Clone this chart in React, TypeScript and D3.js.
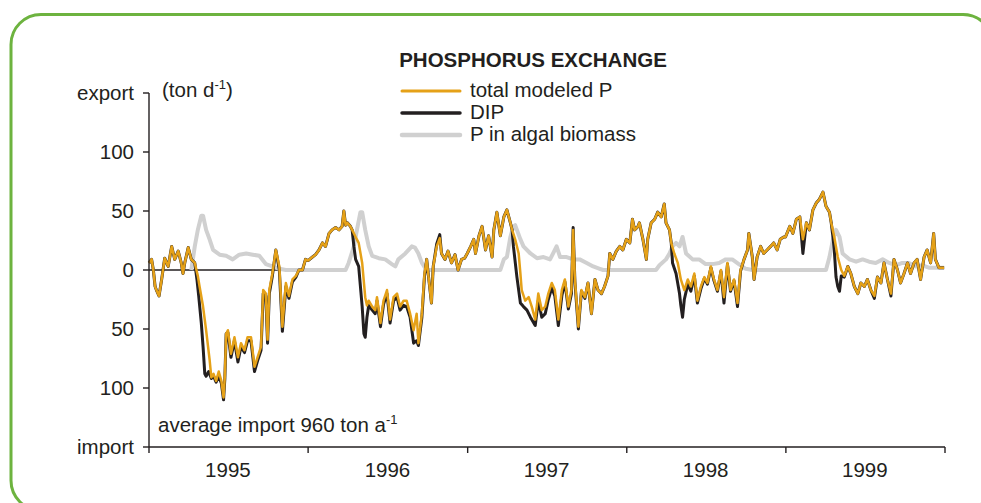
import React from "react";
import * as d3 from "d3";

// days since 1995-01-01, value in ton/day (positive = export, negative = import)
const totalP: [number, number][] = [
  [0,6],[6,9],[10,0],[14,-14],[17,-17],[23,-22],[29,-8],[36,10],[44,3],[52,20],[59,9],[67,16],[74,6],[78,-3],[82,6],[90,19],[97,9],[105,6],[112,-5],[116,-14],[124,-31],[131,-51],[139,-76],[143,-91],[148,-88],[154,-94],[160,-86],[166,-94],[171,-108],[174,-90],[177,-54],[181,-51],[188,-71],[196,-57],[204,-74],[211,-62],[219,-68],[226,-57],[234,-57],[242,-82],[249,-74],[257,-65],[262,-17],[268,-20],[272,-59],[276,-17],[283,-3],[291,17],[299,3],[306,-48],[314,-11],[321,-22],[329,-8],[337,-5],[344,0],[352,0],[359,9],
  [365,8],[375,11],[382,13],[390,17],[398,23],[405,20],[413,31],[420,34],[428,36],[436,34],[443,37],[447,50],[451,38],[455,40],[462,37],[466,34],[474,28],[481,23],[489,6],[496,-23],[500,-30],[504,-26],[512,-31],[519,-34],[523,-23],[531,-45],[538,-26],[546,-17],[553,-42],[561,-23],[569,-20],[576,-31],[584,-26],[591,-26],[599,-37],[607,-51],[614,-37],[618,-62],[626,-37],[632,-3],[637,9],[641,-5],[648,-28],[652,3],[660,20],[667,27],[671,14],[679,9],[686,16],[694,6],[702,13],[709,0],[717,9],[724,10],
  [730,14],[738,20],[745,26],[749,14],[757,29],[764,37],[772,17],[779,29],[787,11],[791,34],[798,49],[806,29],[814,45],[821,51],[829,40],[833,34],[840,26],[848,14],[852,-3],[855,-17],[863,-26],[871,-23],[878,-31],[886,-42],[893,-20],[901,-34],[909,-31],[916,-20],[924,-11],[931,-17],[939,-42],[947,-17],[954,-8],[962,-31],[969,-17],[973,34],[977,-8],[985,-48],[992,-17],[1000,-23],[1007,-11],[1015,-37],[1023,-8],[1030,-17],[1038,-20],[1045,-14],[1053,-5],[1057,14],[1064,9],[1072,16],[1080,20],[1087,17],
  [1095,26],[1103,23],[1109,43],[1114,34],[1122,37],[1125,40],[1133,26],[1141,9],[1144,26],[1152,40],[1160,43],[1167,49],[1175,45],[1182,56],[1186,40],[1194,34],[1198,23],[1205,14],[1213,6],[1220,-8],[1228,-17],[1236,-8],[1243,-14],[1251,-3],[1258,-26],[1266,-14],[1274,-6],[1281,-11],[1289,3],[1296,-8],[1304,-17],[1312,0],[1319,-23],[1327,6],[1334,-17],[1342,-8],[1350,-28],[1357,0],[1365,9],[1373,17],[1376,31],[1384,11],[1388,-8],[1395,11],[1403,20],[1410,14],[1418,17],[1426,20],[1433,23],[1441,17],[1448,26],[1456,28],
  [1460,28],[1470,37],[1477,31],[1485,43],[1493,45],[1500,26],[1508,40],[1515,34],[1523,51],[1531,57],[1538,60],[1546,66],[1553,54],[1561,49],[1565,40],[1572,28],[1580,11],[1588,0],[1595,-5],[1603,3],[1610,-3],[1618,-14],[1626,-20],[1633,-11],[1641,-14],[1648,-8],[1656,-17],[1664,-22],[1671,-6],[1679,-11],[1686,6],[1694,-8],[1702,-20],[1709,9],[1717,0],[1724,-11],[1732,-3],[1740,6],[1747,-3],[1755,6],[1762,9],[1770,-8],[1778,11],[1785,17],[1793,6],[1800,31],[1804,9],[1812,2],[1824,2],
];

const dip: [number, number][] = [
  [0,6],[6,9],[10,0],[14,-14],[17,-17],[23,-22],[29,-8],[36,10],[44,3],[52,20],[59,9],[67,16],[74,6],[78,-3],[82,6],[90,19],[97,9],[105,6],[110,-8],[114,-22],[120,-45],[124,-65],[128,-88],[131,-90],[137,-86],[143,-92],[148,-90],[154,-95],[160,-90],[166,-96],[171,-110],[174,-92],[177,-54],[181,-53],[188,-74],[196,-60],[204,-78],[211,-65],[219,-70],[226,-60],[234,-60],[242,-86],[249,-77],[257,-68],[262,-20],[268,-22],[272,-62],[276,-20],[283,-5],[291,17],[299,0],[306,-52],[314,-14],[321,-24],[329,-10],[337,-6],[344,0],[352,0],[359,9],
  [365,8],[375,11],[382,13],[390,17],[398,23],[405,20],[413,31],[420,34],[428,36],[436,34],[443,37],[447,50],[451,38],[455,40],[462,37],[466,34],[470,20],[474,9],[481,3],[489,-31],[493,-54],[496,-57],[500,-40],[504,-30],[512,-34],[519,-37],[523,-26],[531,-48],[538,-29],[546,-20],[553,-45],[561,-26],[569,-23],[576,-34],[584,-30],[591,-31],[599,-40],[607,-62],[614,-60],[618,-64],[626,-40],[632,-5],[637,9],[641,-5],[648,-28],[652,3],[660,22],[667,30],[671,14],[679,9],[686,16],[694,6],[702,13],[709,0],[717,9],[724,10],
  [730,14],[738,20],[745,26],[749,14],[757,29],[764,37],[772,17],[779,29],[787,11],[791,34],[798,49],[806,29],[814,45],[821,51],[829,40],[833,34],[836,20],[844,-6],[852,-28],[859,-31],[867,-34],[875,-40],[886,-47],[893,-26],[901,-40],[909,-37],[916,-25],[924,-15],[931,-22],[939,-47],[947,-22],[954,-10],[962,-33],[969,-20],[973,36],[977,-10],[985,-50],[992,-18],[1000,-24],[1007,-11],[1015,-37],[1023,-8],[1030,-17],[1038,-20],[1045,-14],[1053,-5],[1057,14],[1064,9],[1072,16],[1080,20],[1087,17],
  [1095,26],[1103,23],[1109,43],[1114,34],[1122,37],[1125,40],[1133,26],[1141,9],[1144,26],[1152,40],[1160,43],[1167,49],[1175,45],[1182,56],[1186,40],[1194,34],[1198,23],[1201,6],[1209,-3],[1217,-20],[1220,-30],[1224,-40],[1228,-25],[1236,-12],[1243,-18],[1251,-5],[1258,-28],[1266,-16],[1274,-7],[1281,-12],[1289,2],[1296,-9],[1304,-18],[1312,-1],[1319,-28],[1327,5],[1334,-18],[1342,-9],[1350,-31],[1357,-1],[1365,9],[1373,17],[1376,31],[1384,11],[1388,-8],[1395,11],[1403,20],[1410,14],[1418,17],[1426,20],[1433,23],[1441,17],[1448,26],[1456,28],
  [1460,28],[1470,37],[1477,31],[1485,43],[1493,45],[1500,14],[1508,40],[1515,34],[1523,51],[1531,57],[1538,60],[1546,66],[1553,54],[1561,49],[1565,40],[1569,28],[1572,17],[1576,-6],[1580,-14],[1584,-18],[1588,-5],[1595,-6],[1603,3],[1610,-3],[1618,-14],[1626,-20],[1633,-11],[1641,-14],[1648,-8],[1656,-17],[1664,-24],[1671,-6],[1679,-11],[1686,6],[1694,-8],[1702,-22],[1709,9],[1717,0],[1724,-11],[1732,-3],[1740,6],[1747,-3],[1755,6],[1762,9],[1770,-8],[1778,11],[1785,17],[1793,6],[1800,31],[1804,9],[1812,2],[1824,2],
];

const algalP: [number, number][] = [
  [97,0],[105,20],[112,34],[120,46],[124,46],[131,34],[139,26],[147,17],[162,13],[177,12],[192,9],[207,13],[223,14],[238,13],[253,12],[268,5],[283,3],[299,1],[314,0],[451,0],[458,6],[470,20],[477,34],[485,49],[489,49],[496,34],[504,20],[512,12],[527,10],[542,9],[557,5],[565,3],[572,9],[588,14],[603,20],[610,19],[618,14],[626,6],[633,2],[641,0],[806,0],[814,9],[821,11],[829,28],[836,37],[840,38],[844,34],[852,26],[859,20],[875,14],[890,10],[905,11],[920,9],[931,17],[935,20],[943,11],[958,11],[973,9],[988,9],[1004,6],[1019,3],[1034,1],[1042,0],[1163,0],[1171,4],[1186,9],[1194,14],[1201,20],[1209,23],[1217,20],[1224,28],[1232,14],[1247,9],[1262,9],[1277,5],[1293,5],[1308,6],[1323,9],[1338,9],[1353,5],[1369,1],[1384,0],[1553,0],[1561,11],[1569,26],[1576,34],[1584,28],[1591,14],[1607,9],[1622,7],[1637,9],[1652,7],[1667,6],[1683,9],[1698,6],[1713,4],[1728,6],[1743,6],[1759,3],[1774,4],[1789,2],[1804,2],[1824,2],
];

const years = [1995, 1996, 1997, 1998, 1999];
const yTicks = [150, 100, 50, 0, -50, -100, -150];
const yTickLabels = ["export", "100", "50", "0", "50", "100", "import"];
const legendItems = ["total modeled P", "DIP", "P in algal biomass"];

const ORANGE = "#E5A118";
const BLACK = "#231F20";
const GREY = "#D0D0D0";
const GREEN = "#6DB33F";
const FONT = "'Liberation Sans', Arial, sans-serif";

const start = new Date(1995, 0, 1);
const toDate = (d: number) => d3.timeDay.offset(start, d);

export default function App() {
  const x = d3.scaleTime().domain([new Date(1995, 0, 1), new Date(2000, 0, 1)]).range([149, 945]);
  const y = d3.scaleLinear().domain([-150, 150]).range([447, 93]);
  const line = d3
    .line<[number, number]>()
    .x((d) => x(toDate(d[0])))
    .y((d) => y(d[1]));

  const legendColors = [ORANGE, BLACK, GREY];
  const legendWidths = [3, 3.5, 4.5];

  return (
    <svg width={981} height={503} style={{ position: "absolute", left: 0, top: 0, background: "#fff" }} fontFamily={FONT}>
      <rect x={11} y={14.5} width={982} height={496} rx={30} ry={30} fill="none" stroke={GREEN} strokeWidth={3} />

      {/* title and legend */}
      <text x={533} y={67} textAnchor="middle" fontWeight="bold" fontSize={20.5} fill={BLACK}>PHOSPHORUS EXCHANGE</text>
      {legendItems.map((t, i) => (
        <g key={t}>
          <line x1={402} x2={460} y1={91 + i * 22} y2={91 + i * 22} stroke={legendColors[i]} strokeWidth={legendWidths[i]} strokeLinecap="round" />
          <text x={470} y={97 + i * 22} fontSize={20.5} fill={BLACK}>{t}</text>
        </g>
      ))}

      {/* zero line (visible where the algal series is absent) */}
      <line x1={x(new Date(1995, 0, 1))} x2={x(toDate(314))} y1={y(0)} y2={y(0)} stroke={BLACK} strokeWidth={1.5} />

      {/* series */}
      <path d={line(algalP) || ""} fill="none" stroke={GREY} strokeWidth={4} strokeLinejoin="round" />
      <path d={line(dip) || ""} fill="none" stroke={BLACK} strokeWidth={3} strokeLinejoin="round" />
      <path d={line(totalP) || ""} fill="none" stroke={ORANGE} strokeWidth={2.5} strokeLinejoin="round" />

      {/* y axis */}
      <line x1={149} x2={149} y1={y(150)} y2={y(-150)} stroke={BLACK} strokeWidth={1.4} />
      {yTicks.map((t, i) => (
        <g key={i}>
          <line x1={143} x2={149} y1={y(t)} y2={y(t)} stroke={BLACK} strokeWidth={1.4} />
          <text x={134} y={y(t)} dy="0.35em" textAnchor="end" fontSize={20.5} fill={BLACK}>{yTickLabels[i]}</text>
        </g>
      ))}
      <text x={162} y={97} fontSize={20.5} fill={BLACK}>
        (ton d<tspan dy={-8} fontSize={13}>-1</tspan><tspan dy={8}>)</tspan>
      </text>

      {/* x axis */}
      <line x1={149} x2={945} y1={y(-150)} y2={y(-150)} stroke={BLACK} strokeWidth={1.4} />
      {[...years, 2000].map((yr) => (
        <line key={yr} x1={x(new Date(yr, 0, 1))} x2={x(new Date(yr, 0, 1))} y1={y(-150)} y2={y(-150) + 6} stroke={BLACK} strokeWidth={1.4} />
      ))}
      {years.map((yr) => (
        <text key={yr} x={x(new Date(yr, 6, 1))} y={477} textAnchor="middle" fontSize={20.5} fill={BLACK}>{yr}</text>
      ))}

      <text x={158} y={432} fontSize={20.5} fill={BLACK}>
        average import 960 ton a<tspan dy={-8} fontSize={13}>-1</tspan>
      </text>
    </svg>
  );
}
